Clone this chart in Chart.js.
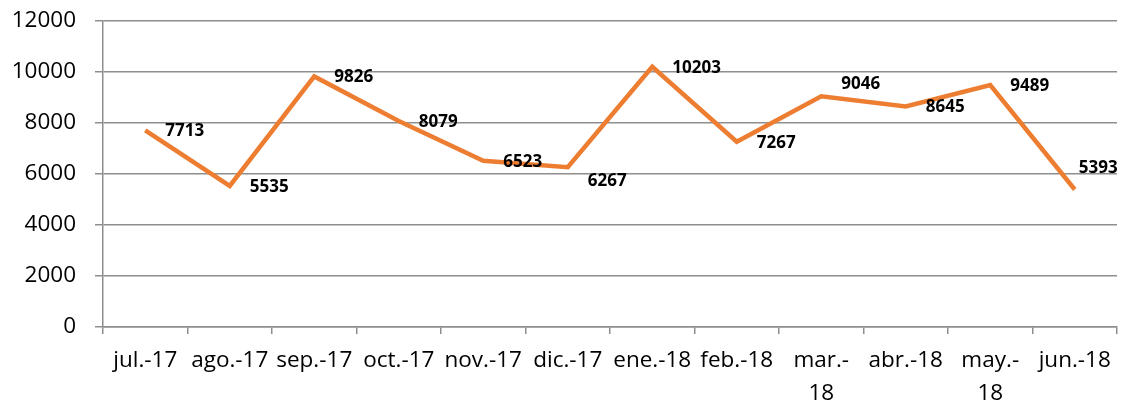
<!DOCTYPE html>
<html>
<head>
<meta charset="utf-8">
<script src="https://cdn.jsdelivr.net/npm/chart.js@4.4.0/dist/chart.umd.min.js"></script>
<style>
  html, body { margin: 0; padding: 0; background: #fff; }
  #wrap { width: 1126px; height: 405px; }
</style>
</head>
<body>
<div id="wrap"><canvas id="lineChart" width="1126" height="405"></canvas></div>
<script>
// months, as printed on the axis (some wrap onto two lines)
var months = [
  'jul.-17', 'ago.-17', 'sep.-17', 'oct.-17', 'nov.-17', 'dic.-17',
  'ene.-18', 'feb.-18', ['mar.-', '18'], 'abr.-18', ['may.-', '18'], 'jun.-18'
]
var values = [7713, 5535, 9826, 8079, 6523, 6267, 10203, 7267, 9046, 8645, 9489, 5393]
var yTicks = [0, 2000, 4000, 6000, 8000, 10000, 12000]

// small nudges for the few labels that were moved off the line
var labelNudgeX = [0, 0, 0, 0, 0, 0, 0, 0, 0, 0, 0, -16]
var labelNudgeY = [0, 0, 0, 0, 0, 13, 0, 0, -13, 0, 0, -22]

var orange = '#ED7D31'
var gridGrey = '#8e8e8e'
var fontFam = '"Open Sans", sans-serif'

// draws the value next to each point
const valueLabels = {
  id: 'valueLabels',
  afterDatasetsDraw(chart) {
    var ctx = chart.ctx
    var meta = chart.getDatasetMeta(0)
    ctx.save()
    ctx.font = 'bold 17px ' + fontFam
    ctx.fillStyle = '#000'
    ctx.textAlign = 'left'
    ctx.textBaseline = 'middle'
    meta.data.forEach(function (pt, i) {
      ctx.fillText(String(values[i]), pt.x + 20 + labelNudgeX[i], pt.y + 1 + labelNudgeY[i])
    })
    ctx.restore()
  }
}

var chart = new Chart(document.getElementById('lineChart').getContext('2d'), {
  type: 'line',
  data: {
    labels: months,
    datasets: [{
      data: values,
      borderColor: orange,
      borderWidth: 4.5,
      borderJoinStyle: 'miter',
      pointRadius: 0,
      tension: 0,
      fill: false
    }]
  },
  options: {
    responsive: false,
    animation: false,
    layout: { padding: { left: 12, right: 9, top: 21, bottom: 0 } },
    plugins: {
      legend: { display: false },
      tooltip: { enabled: false }
    },
    scales: {
      x: {
        offset: true,
        afterFit: function (scale) { scale.height = 78 },
        grid: {
          offset: true,
          drawOnChartArea: false,
          drawTicks: true,
          tickLength: 7,
          color: gridGrey,
          lineWidth: 1.5
        },
        border: { display: true, color: gridGrey, width: 1.5 },
        ticks: {
          color: '#000',
          font: { family: fontFam, size: 22.5, lineHeight: 1.47 },
          padding: 10,
          maxRotation: 0,
          autoSkip: false
        }
      },
      y: {
        min: 0,
        max: 12000,
        afterFit: function (scale) {
          scale.width = 91
          scale.paddingTop = 0
          scale.paddingBottom = 0
        },
        afterBuildTicks: function (axis) {
          axis.ticks = yTicks.map(function (v) { return { value: v } })
        },
        grid: {
          color: gridGrey,
          lineWidth: 1.5,
          tickLength: 8
        },
        border: { display: true, color: gridGrey, width: 1.5 },
        ticks: {
          color: '#000',
          font: { family: fontFam, size: 22.5 },
          padding: 19,
          callback: function (v) { return String(v) }
        }
      }
    }
  },
  plugins: [valueLabels]
});
</script>
</body>
</html>
